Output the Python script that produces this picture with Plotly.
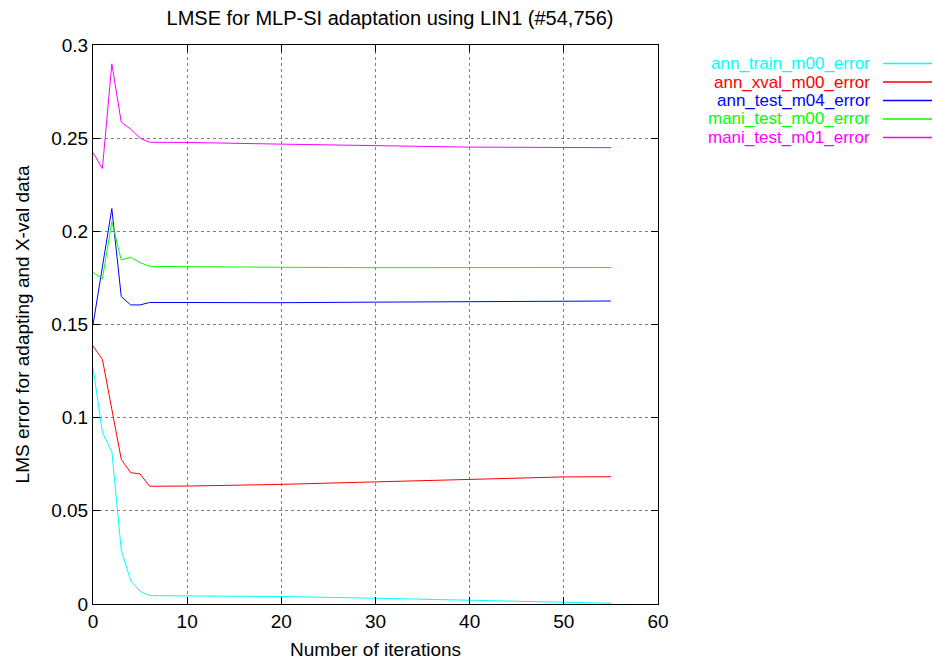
import plotly.graph_objects as go

iterations = [0, 1, 2, 3, 4, 5, 6, 10, 20, 30, 40, 50, 55]

ann_train_m00_error = [0.127, 0.092, 0.0818, 0.029, 0.0125, 0.0068, 0.0045, 0.0044, 0.0040, 0.0031, 0.0020, 0.0011, 0.0004]
ann_xval_m00_error = [0.1385, 0.1313, 0.1045, 0.0777, 0.0705, 0.0698, 0.0632, 0.0633, 0.0642, 0.0655, 0.0671, 0.0682, 0.0683]
ann_test_m04_error = [0.1498, 0.181, 0.2122, 0.165, 0.1605, 0.1605, 0.1618, 0.1618, 0.1617, 0.1620, 0.1623, 0.1625, 0.1626]
mani_test_m00_error = [0.178, 0.1745, 0.2052, 0.1846, 0.1861, 0.1832, 0.1812, 0.1810, 0.1807, 0.1805, 0.1805, 0.1806, 0.1806]
mani_test_m01_error = [0.2423, 0.2337, 0.2899, 0.2586, 0.2548, 0.2500, 0.2478, 0.2477, 0.2468, 0.2458, 0.2452, 0.2450, 0.2449]

series_names = ["ann_train_m00_error", "ann_xval_m00_error", "ann_test_m04_error",
                "mani_test_m00_error", "mani_test_m01_error"]
series_values = [ann_train_m00_error, ann_xval_m00_error, ann_test_m04_error,
                 mani_test_m00_error, mani_test_m01_error]
colors = ["#00ffff", "#ff0000", "#0000ff", "#00ff00", "#ff00ff"]

x_ticks = [0, 10, 20, 30, 40, 50, 60]
y_ticks = [0, 0.05, 0.1, 0.15, 0.2, 0.25, 0.3]
y_tick_labels = ["0", "0.05", "0.1", "0.15", "0.2", "0.25", "0.3"]

FONT = "Liberation Sans, Arial, sans-serif"
L, R, T, B = 93, 658, 45, 604
PW, PH = R - L, B - T

fig = go.Figure()
for name, vals, col in zip(series_names, series_values, colors):
    fig.add_trace(go.Scatter(x=iterations, y=vals, mode="lines", name=name,
                             line=dict(color=col, width=1), showlegend=False))

# legend drawn gnuplot-style: right-aligned text, sample line on the right
row_y = [63.5, 82, 100.5, 119, 137.5]
for name, col, yy in zip(series_names, colors, row_y):
    yp = (B - yy) / PH
    fig.add_annotation(xref="paper", yref="paper", x=(871 - L) / PW, y=yp,
                       text=name, showarrow=False, xanchor="right", yanchor="middle",
                       borderpad=0,
                       font=dict(family=FONT, size=17, color=col))
    fig.add_shape(type="line", xref="paper", yref="paper",
                  x0=(883 - L) / PW, x1=(932 - L) / PW, y0=yp, y1=yp,
                  line=dict(color=col, width=1.5))

axis_common = dict(
    showline=True, linecolor="black", linewidth=1, mirror="allticks",
    ticks="inside", ticklen=7, tickcolor="black", automargin=False,
    showgrid=True, gridcolor="#808080", griddash="dot", gridwidth=1,
    zeroline=False, tickfont=dict(family=FONT, size=19, color="black"),
)

fig.update_layout(
    width=933, height=660,
    margin=dict(l=L, r=933 - R, t=T, b=660 - B, autoexpand=False),
    paper_bgcolor="white", plot_bgcolor="white",
    title=dict(text="LMSE for MLP-SI adaptation using LIN1 (#54,756)",
               x=390 / 933, xanchor="center", y=1 - 18 / 660, yanchor="middle",
               font=dict(family=FONT, size=20, color="black")),
    xaxis=dict(range=[0, 60], tickvals=x_ticks,
               title=dict(text="Number of iterations", standoff=14,
                          font=dict(family=FONT, size=19, color="black")),
               **axis_common),
    yaxis=dict(range=[0, 0.3], tickvals=y_ticks, ticktext=y_tick_labels,
               title=dict(text="LMS error for adapting and X-val data", standoff=16,
                          font=dict(family=FONT, size=19, color="black")),
               **axis_common),
)

fig.write_html("out.html", config={"displayModeBar": False},
               post_script="document.body.style.margin='0px';document.body.style.padding='0px';")
